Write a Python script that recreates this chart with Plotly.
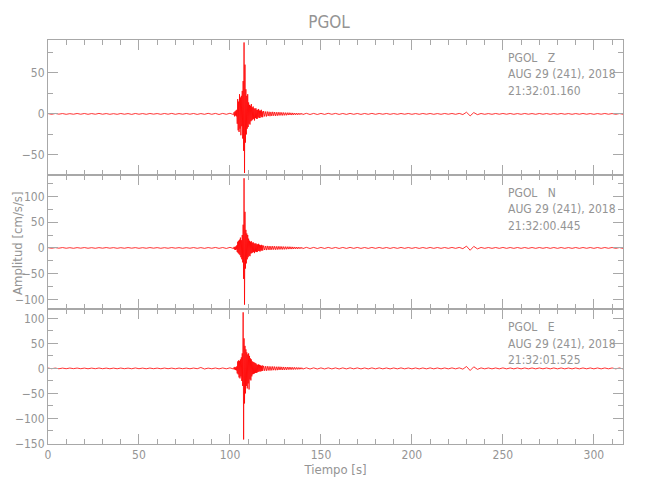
import plotly.graph_objects as go
from plotly.subplots import make_subplots

# ---- sampling segments (start time, sample interval) ----
SEG_START = [0.0, 102.25, 118.5, 142.0]
SEG_DT = [2.0, 0.25, 0.5, 2.0]

# ---- Z component (cm/s/s) ----
Z_pre = [0.4,-0.5,0.5,-0.3,0.4,-0.5,0.3,-0.4,0.5,-0.4,0.5,-0.5,0.4,-0.4,0.6,-0.4,0.4,-0.5,0.3,-0.5,
         0.5,-0.4,0.4,-0.6,0.5,-0.4,0.4,-0.5,0.5,-0.3,0.4,-0.5,0.5,-0.4,0.6,-0.5,0.4,-0.4,0.5,-0.4,
         0.5,-0.6,0.4,-0.5,0.7,-0.5,0.6,-0.7,0.6,-0.5,0.8,-0.9]
Z_main = [2,-3,3,-2,4,-3,5,
          -12,18,-20,15,-22,
          24,-18,20,-26,22,-15,
          28,-30,40,
          -45,87,-72,60,-35,30,
          -25,22,-18,24,-16,
          14,-12,11,-13,10,-9,12,-8,
          8,-7,9,-6,7,-8,6,-5,7,-6,5,-6,
          5,-4,6,-5,4,-5,4,-3,5,-4,3,-4]
Z_coda = [3.5,-3,2.8,-3.2,2.9,-2.6,2.6,-2.8,2.4,-2.5,2.5,-2.2,2.3,-2.4,2.0,-2.2,2.1,-1.9,2.0,-1.8,
          1.8,-1.9,1.7,-1.7,1.5,-1.7,1.5,-1.4,1.5,-1.3,1.3,-1.4,1.2,-1.2,1.1,-1.1,1.0,-1.1,0.9,-1.0,
          0.9,-0.8,0.8,-0.8]
Z_tail = [0.7,-0.7,0.6,-0.7,0.6,-0.6,0.7,-0.5,0.6,-0.6,0.5,-0.6,0.6,-0.5,0.5,-0.6,0.5,-0.5,0.6,-0.5,
          0.5,-0.4,0.5,-0.5,0.4,-0.5,0.5,-0.4,0.5,-0.5,0.4,-0.5,0.5,-0.4,0.5,-0.5,0.4,-0.5,0.5,-0.4,
          0.5,-0.5,0.6,-0.8,2.0,-2.4,1.6,-0.9,0.5,-0.5,0.4,-0.5,0.5,-0.4,0.5,-0.4,0.5,-0.5,0.4,-0.5,
          0.5,-0.4,0.4,-0.5,0.5,-0.4,0.4,-0.5,0.4,-0.4,0.5,-0.4,0.4,-0.5,0.4,-0.4,0.5,-0.4,0.4,-0.5,
          0.4,-0.4,0.5,-0.4,0.4,-0.5,0.4,-0.4]

# ---- N component ----
N_pre = [0.6,-0.7,0.6,-0.5,0.7,-0.6,0.5,-0.7,0.6,-0.5,0.7,-0.6,0.5,-0.7,0.6,-0.5,0.7,-0.5,0.6,-0.7,
         0.5,-0.6,0.7,-0.5,0.6,-0.7,0.5,-0.6,0.7,-0.5,0.6,-0.7,0.5,-0.6,0.7,-0.5,0.6,-0.7,0.5,-0.6,
         0.7,-0.7,0.6,-0.8,0.7,-0.6,0.9,-0.8,0.8,-1.0,1.1,-1.2]
N_main = [2,-3,2,-4,3,-3,5,
          -8,12,-10,14,-12,
          16,-14,20,-18,15,-22,
          25,-28,45,
          -60,135,-110,70,-40,35,
          -30,28,-22,25,-18,
          18,-15,14,-16,12,-11,13,-10,
          10,-9,11,-8,9,-10,8,-7,9,-8,7,-8,
          7,-6,8,-6,6,-7,5,-5,6,-5,5,-5]
N_coda = [4.5,-4,3.8,-4.2,3.9,-3.6,3.6,-3.8,3.4,-3.5,3.5,-3.2,3.3,-3.4,3.0,-3.2,3.1,-2.9,3.0,-2.8,
          2.8,-2.9,2.6,-2.7,2.5,-2.6,2.4,-2.3,2.4,-2.2,2.2,-2.2,2.0,-2.0,1.9,-1.8,1.8,-1.8,1.6,-1.6,
          1.5,-1.4,1.3,-1.3]
N_tail = [1.1,-1.1,1.0,-1.1,0.9,-1.0,1.0,-0.9,0.9,-1.0,0.9,-0.9,1.0,-0.8,0.9,-0.9,0.8,-0.9,0.9,-0.8,
          0.9,-0.8,0.8,-0.9,0.8,-0.8,0.9,-0.8,0.8,-0.8,0.8,-0.9,0.8,-0.8,0.9,-0.8,0.8,-0.8,0.8,-0.8,
          0.9,-0.8,1.0,-1.4,3.5,-4.5,3.0,-1.8,0.9,-0.8,0.8,-0.8,0.8,-0.8,0.9,-0.8,0.8,-0.8,0.8,-0.8,
          0.8,-0.8,0.8,-0.8,0.8,-0.7,0.8,-0.8,0.8,-0.8,0.8,-0.8,0.7,-0.8,0.8,-0.8,0.8,-0.7,0.8,-0.8,
          0.8,-0.8,0.8,-0.7,0.8,-0.8,0.7,-0.8]

# ---- E component ----
E_pre = [0.7,-0.6,0.6,-0.7,0.6,-0.6,0.7,-0.5,0.7,-0.6,0.6,-0.7,0.6,-0.6,0.8,-0.6,0.6,-0.7,0.6,-0.7,
         0.7,-0.6,0.6,-0.7,0.9,-0.6,0.6,-0.7,0.7,-0.6,0.6,-0.7,0.7,-0.6,0.6,-0.8,0.7,-0.6,0.6,-0.7,
         0.7,-0.6,1.8,-1.2,0.6,-0.7,0.8,-0.9,0.9,-0.8,1.1,-1.3]
E_main = [2,-2,3,-3,2,-4,4,
          -10,14,-12,16,-18,
          15,-20,18,-16,22,-25,
          30,-35,112,
          -142,60,-70,45,-50,38,
          -35,32,-40,28,-30,
          30,-42,25,-22,20,-24,18,-16,
          14,-12,13,-11,12,-10,11,-9,10,-9,8,-8,
          7,-7,8,-6,7,-6,6,-6,5,-5,6,-5]
E_coda = [5,-4.6,4.3,-4.8,4.4,-4.1,4.0,-4.2,3.8,-3.9,3.9,-3.5,3.6,-3.7,3.3,-3.5,3.4,-3.1,3.3,-3.0,
          3.0,-3.1,2.9,-2.9,2.7,-2.9,2.6,-2.5,2.6,-2.4,2.4,-2.4,2.2,-2.2,2.1,-2.0,1.9,-2.0,1.8,-1.8,
          1.6,-1.5,1.4,-1.4]
E_tail = [1.2,-1.2,1.1,-1.2,1.0,-1.1,1.1,-1.0,1.0,-1.1,1.0,-1.0,1.1,-0.9,1.0,-1.0,0.9,-1.0,1.0,-0.9,
          1.0,-0.9,0.9,-1.0,0.9,-0.9,1.0,-0.9,0.9,-0.9,0.9,-1.0,0.9,-0.9,1.0,-0.9,0.9,-0.9,0.9,-0.9,
          1.0,-0.9,1.1,-1.5,3.8,-4.2,3.2,-1.9,1.0,-0.9,0.9,-0.9,0.9,-0.9,1.0,-0.9,0.9,-0.9,0.9,-0.9,
          0.9,-0.9,0.9,-0.9,0.9,-0.8,0.9,-0.9,0.9,-0.9,0.9,-0.9,0.8,-0.9,0.9,-0.9,0.9,-0.8,0.9,-0.9,
          0.9,-0.9,0.9,-0.8,0.9,-0.9,0.8,-0.9]

STATION = "PGOL"
COMPONENTS = ["Z", "N", "E"]
DATE_LABEL = "AUG 29 (241), 2018"
START_TIMES = ["21:32:01.160", "21:32:00.445", "21:32:01.525"]

Y_RANGES = [[-74, 90], [-119, 142], [-151, 118]]
Y_TICKS = [[-50, 0, 50], [-100, -50, 0, 50, 100], [-150, -100, -50, 0, 50, 100]]
Y_MINOR = [[-75, -25, 25, 75], [-125, -75, -25, 25, 75, 125], [-125, -75, -25, 25, 75]]
X_TICKS = [0, 50, 100, 150, 200, 250, 300]
X_MINOR = [10, 20, 30, 40, 60, 70, 80, 90, 110, 120, 130, 140, 160, 170, 180, 190,
           210, 220, 230, 240, 260, 270, 280, 290, 310]


def seg_times(values, start, dt):
    return [start + i * dt for i in range(len(values))]


def build(segments):
    t, v = [], []
    for vals, s, d in zip(segments, SEG_START, SEG_DT):
        t += seg_times(vals, s, d)
        v += vals
    return t, v


traces = [build([Z_pre, Z_main, Z_coda, Z_tail]),
          build([N_pre, N_main, N_coda, N_tail]),
          build([E_pre, E_main, E_coda, E_tail])]

FONT = "Liberation Sans Narrow, DejaVu Sans Condensed, sans-serif"
AX = "#a8a8a8"
TXT = "#949494"

# page body has an 8px margin: figure is 642x492 placed at (8,8)
W, H = 642, 492
ML, MR, MT, MB = 40, 27, 32, 56

fig = make_subplots(rows=3, cols=1, shared_xaxes=True, vertical_spacing=0)

for i, (t, v) in enumerate(traces):
    fig.add_trace(go.Scatter(x=t, y=v, mode="lines", line=dict(color="#ff0000", width=0.8),
                             hoverinfo="skip", showlegend=False), row=i + 1, col=1)
    common = dict(showline=True, linecolor=AX, linewidth=1, mirror="ticks", ticks="inside",
                  ticklen=10, tickcolor=AX, tickwidth=1, showgrid=False, zeroline=False,
                  automargin=False, tickfont=dict(family=FONT, size=12, color=TXT))
    fig.update_yaxes(range=Y_RANGES[i], tickmode="array", tickvals=Y_TICKS[i],
                     minor=dict(tickvals=Y_MINOR[i], ticks="inside", ticklen=5, tickcolor=AX),
                     row=i + 1, col=1, **common)
    fig.update_xaxes(range=[0, 316], tickmode="array", tickvals=X_TICKS,
                     minor=dict(tickvals=X_MINOR, ticks="inside", ticklen=5, tickcolor=AX),
                     row=i + 1, col=1, **common)

fig.update_xaxes(title=dict(text="Tiempo [s]", font=dict(family=FONT, size=13, color=TXT), standoff=2),
                 row=3, col=1)

# per-panel labels (pixel positions in the figure)
plot_top = MT
plot_h = H - MT - MB
panel_h = plot_h / 3
for i in range(3):
    lines = [f"{STATION}   {COMPONENTS[i]}", DATE_LABEL, START_TIMES[i]]
    for j, txt in enumerate(lines):
        ypx = plot_top + i * panel_h + 18 + j * 16.5
        fig.add_annotation(text=txt, xref="paper", yref="paper", x=0.796,
                           y=1 - (ypx - plot_top) / plot_h,
                           xanchor="left", yanchor="middle", showarrow=False,
                           font=dict(family=FONT, size=12, color=TXT))

fig.add_annotation(text="Amplitud [cm/s/s]", xref="paper", yref="paper",
                   x=-0.054, y=1 - (243 - 8 - plot_top) / plot_h, textangle=-90,
                   xanchor="center", yanchor="middle", showarrow=False,
                   font=dict(family=FONT, size=13, color=TXT))

fig.update_layout(
    width=W, height=H,
    margin=dict(l=ML, r=MR, t=MT, b=MB, autoexpand=False),
    paper_bgcolor="white", plot_bgcolor="white",
    title=dict(text=STATION, x=0.5, xanchor="center", y=1 - 14 / H, yanchor="middle",
               font=dict(family=FONT, size=17, color=TXT)),
)

fig.write_html("out.html")
